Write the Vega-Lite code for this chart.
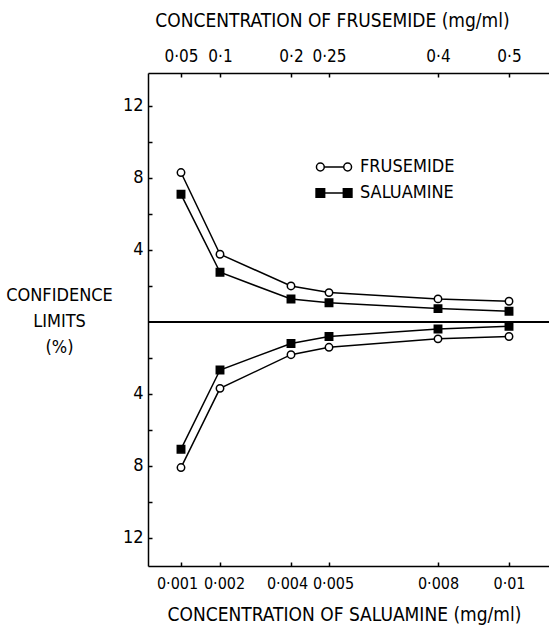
{
  "$schema": "https://vega.github.io/schema/vega-lite/v6.json",
  "width": 401,
  "height": 493,
  "autosize": "none",
  "padding": {"left": 148, "top": 73, "right": 0, "bottom": 62},
  "background": "white",
  "config": {
    "view": {"stroke": null},
    "font": "DejaVu Sans Condensed",
    "axis": {
      "grid": false,
      "domainColor": "black",
      "domainWidth": 1.5,
      "tickColor": "black",
      "tickWidth": 1.5,
      "labelColor": "black",
      "labelFontSize": 18,
      "labelFont": "DejaVu Sans Condensed",
      "labelOverlap": false,
      "titleFont": "DejaVu Sans Condensed",
      "titleColor": "black",
      "titleFontSize": 18,
      "titleFontWeight": "normal"
    },
    "legend": {"labelFont": "DejaVu Sans Condensed"}
  },
  "data": {
    "values": [
      {"salu": 0.001, "fru": 0.05, "series": "FRUSEMIDE", "limit": "upper", "value": 8.3},
      {"salu": 0.002, "fru": 0.1, "series": "FRUSEMIDE", "limit": "upper", "value": 3.76},
      {"salu": 0.004, "fru": 0.2, "series": "FRUSEMIDE", "limit": "upper", "value": 2.0},
      {"salu": 0.005, "fru": 0.25, "series": "FRUSEMIDE", "limit": "upper", "value": 1.63},
      {"salu": 0.008, "fru": 0.4, "series": "FRUSEMIDE", "limit": "upper", "value": 1.28},
      {"salu": 0.01, "fru": 0.5, "series": "FRUSEMIDE", "limit": "upper", "value": 1.15},
      {"salu": 0.001, "fru": 0.05, "series": "SALUAMINE", "limit": "upper", "value": 7.09},
      {"salu": 0.002, "fru": 0.1, "series": "SALUAMINE", "limit": "upper", "value": 2.76},
      {"salu": 0.004, "fru": 0.2, "series": "SALUAMINE", "limit": "upper", "value": 1.27},
      {"salu": 0.005, "fru": 0.25, "series": "SALUAMINE", "limit": "upper", "value": 1.07},
      {"salu": 0.008, "fru": 0.4, "series": "SALUAMINE", "limit": "upper", "value": 0.74},
      {"salu": 0.01, "fru": 0.5, "series": "SALUAMINE", "limit": "upper", "value": 0.59},
      {"salu": 0.001, "fru": 0.05, "series": "FRUSEMIDE", "limit": "lower", "value": -8.09},
      {"salu": 0.002, "fru": 0.1, "series": "FRUSEMIDE", "limit": "lower", "value": -3.69},
      {"salu": 0.004, "fru": 0.2, "series": "FRUSEMIDE", "limit": "lower", "value": -1.82},
      {"salu": 0.005, "fru": 0.25, "series": "FRUSEMIDE", "limit": "lower", "value": -1.41},
      {"salu": 0.008, "fru": 0.4, "series": "FRUSEMIDE", "limit": "lower", "value": -0.94},
      {"salu": 0.01, "fru": 0.5, "series": "FRUSEMIDE", "limit": "lower", "value": -0.81},
      {"salu": 0.001, "fru": 0.05, "series": "SALUAMINE", "limit": "lower", "value": -7.07},
      {"salu": 0.002, "fru": 0.1, "series": "SALUAMINE", "limit": "lower", "value": -2.67},
      {"salu": 0.004, "fru": 0.2, "series": "SALUAMINE", "limit": "lower", "value": -1.2},
      {"salu": 0.005, "fru": 0.25, "series": "SALUAMINE", "limit": "lower", "value": -0.81},
      {"salu": 0.008, "fru": 0.4, "series": "SALUAMINE", "limit": "lower", "value": -0.39},
      {"salu": 0.01, "fru": 0.5, "series": "SALUAMINE", "limit": "lower", "value": -0.24}
    ]
  },
  "layer": [
    {
      "mark": {"type": "line", "color": "black", "strokeWidth": 1.5},
      "encoding": {
        "x": {
          "field": "salu",
          "type": "quantitative",
          "scale": {
            "domain": [0.00018, 0.001, 0.002, 0.004, 0.005, 0.008, 0.01, 0.01113],
            "range": [0, 33, 72, 143, 181, 290, 361, 401],
            "zero": false,
            "nice": false
          },
          "axis": {
            "orient": "bottom",
            "values": [0.001, 0.002, 0.004, 0.005, 0.008, 0.01],
            "labelExpr": "replace(format(datum.value, '.3~f'), '.', '·')",
            "labelFontSize": 16,
            "labelOffset": {
              "condition": [
                {"test": "datum.value < 0.0015 || (datum.value > 0.0035 && datum.value < 0.0045)", "value": -4},
                {"test": "(datum.value > 0.0015 && datum.value < 0.0025) || (datum.value > 0.0045 && datum.value < 0.0055)", "value": 4}
              ],
              "value": 0
            },
            "tickSize": -4,
            "labelPadding": 13,
            "title": "CONCENTRATION OF SALUAMINE (mg/ml)",
            "titleFontSize": 19,
            "titlePadding": 14,
            "titleX": 196
          }
        },
        "y": {
          "field": "value",
          "type": "quantitative",
          "scale": {"domain": [-13.56, 13.83], "zero": false, "nice": false},
          "axis": {
            "values": [-12, -10, -8, -6, -4, -2, 2, 4, 6, 8, 10, 12],
            "labelExpr": "abs(datum.value) % 4 == 0 ? '' + abs(datum.value) : ''",
            "tickSize": -4,
            "labelPadding": 9,
            "title": ["CONFIDENCE", "LIMITS", "(%)"],
            "titleAngle": 0,
            "titleAlign": "center",
            "titleBaseline": "top",
            "titleX": -89,
            "titleY": 213,
            "titleLineHeight": 26
          }
        },
        "detail": [{"field": "series"}, {"field": "limit"}]
      }
    },
    {
      "mark": {"type": "rule", "color": "black", "strokeWidth": 1.5},
      "encoding": {"y": {"datum": 0, "type": "quantitative"}}
    },
    {
      "mark": {"type": "point", "filled": true, "stroke": "black", "strokeWidth": 1.5, "size": 55, "opacity": 1},
      "encoding": {
        "x": {
          "field": "fru",
          "type": "quantitative",
          "scale": {
            "domain": [0.009, 0.05, 0.1, 0.2, 0.25, 0.4, 0.5, 0.5565],
            "range": [0, 33, 72, 143, 181, 290, 361, 401],
            "zero": false,
            "nice": false
          },
          "axis": {
            "orient": "top",
            "values": [0.05, 0.1, 0.2, 0.25, 0.4, 0.5],
            "labelExpr": "replace(format(datum.value, '.2~f'), '.', '·')",
            "labelFontSize": 17,
            "tickSize": -4,
            "labelPadding": 12,
            "title": "CONCENTRATION OF FRUSEMIDE (mg/ml)",
            "titleFontSize": 19,
            "titlePadding": 17,
            "titleX": 184
          }
        },
        "y": {"field": "value", "type": "quantitative"},
        "shape": {"condition": {"test": "datum.series == 'FRUSEMIDE'", "value": "circle"}, "value": "square"},
        "fill": {"condition": {"test": "datum.series == 'FRUSEMIDE'", "value": "white"}, "value": "black"}
      }
    },
    {
      "mark": {"type": "point", "filled": false, "color": "black", "strokeWidth": 1.5, "opacity": 0},
      "encoding": {
        "x": {"field": "salu", "type": "quantitative", "axis": null},
        "y": {"field": "value", "type": "quantitative"},
        "shape": {
          "field": "series",
          "type": "nominal",
          "scale": {
            "domain": ["FRUSEMIDE", "SALUAMINE"],
            "range": [
              "M -1.35 0 A 0.3 0.3 0 1 1 -0.75 0 A 0.3 0.3 0 1 1 -1.35 0 Z M -0.75 0 L 0.75 0 M 0.75 0 A 0.3 0.3 0 1 1 1.35 0 A 0.3 0.3 0 1 1 0.75 0 Z",
              "M -1.38 -0.33 L -0.72 -0.33 L -0.72 0.33 L -1.38 0.33 Z M -1.38 -0.2475 L -0.72 -0.2475 M -1.38 -0.165 L -0.72 -0.165 M -1.38 -0.0825 L -0.72 -0.0825 M -1.38 0.0825 L -0.72 0.0825 M -1.38 0.165 L -0.72 0.165 M -1.38 0.2475 L -0.72 0.2475 M -1.38 0 L 1.38 0 M 0.72 -0.33 L 1.38 -0.33 L 1.38 0.33 L 0.72 0.33 Z M 0.72 -0.2475 L 1.38 -0.2475 M 0.72 -0.165 L 1.38 -0.165 M 0.72 -0.0825 L 1.38 -0.0825 M 0.72 0.0825 L 1.38 0.0825 M 0.72 0.165 L 1.38 0.165 M 0.72 0.2475 L 1.38 0.2475"
            ]
          },
          "legend": {
            "orient": "none",
            "legendX": 172,
            "legendY": 80,
            "title": null,
            "padding": 0,
            "symbolSize": 676,
            "symbolOpacity": 1,
            "symbolStrokeWidth": 1.5,
            "labelFontSize": 18,
            "labelColor": "black",
            "labelOffset": 12,
            "rowPadding": 3
          }
        }
      }
    }
  ],
  "resolve": {"scale": {"x": "independent"}, "axis": {"x": "independent"}}
}
